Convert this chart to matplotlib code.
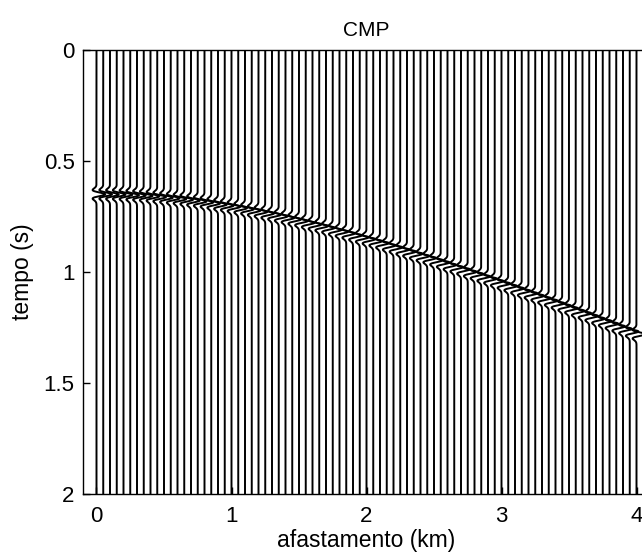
import numpy as np
import matplotlib
matplotlib.use("Agg")
import matplotlib.pyplot as plt

plt.rcParams['font.family'] = ['Liberation Sans', 'DejaVu Sans']

# ---- data ----
title = "CMP"
xlabel = "afastamento (km)"
ylabel = "tempo (s)"
xticks = [0, 1, 2, 3, 4]
yticks = [0, 0.5, 1, 1.5, 2]
ytick_labels = ["0", "0.5", "1", "1.5", "2"]

# trace offsets (km), one trace every 0.05 km
offsets = [round(0.05 * i, 2) for i in range(81)]
# reflection arrival time picked on each trace (s)
arrival_times = [
    0.650, 0.650, 0.651, 0.651, 0.652, 0.654, 0.655, 0.657, 0.659, 0.662,
    0.665, 0.668, 0.671, 0.674, 0.678, 0.682, 0.686, 0.691, 0.696, 0.701,
    0.706, 0.712, 0.717, 0.723, 0.729, 0.736, 0.742, 0.749, 0.756, 0.763,
    0.770, 0.778, 0.786, 0.793, 0.801, 0.810, 0.818, 0.826, 0.835, 0.844,
    0.852, 0.861, 0.870, 0.880, 0.889, 0.899, 0.908, 0.918, 0.928, 0.937,
    0.947, 0.957, 0.968, 0.978, 0.988, 0.999, 1.009, 1.020, 1.030, 1.041,
    1.052, 1.063, 1.074, 1.085, 1.096, 1.107, 1.118, 1.129, 1.141, 1.152,
    1.163, 1.175, 1.186, 1.198, 1.210, 1.221, 1.233, 1.245, 1.256, 1.268,
    1.280,
]

# ---- figure ----
fig = plt.figure(figsize=(6.42, 5.53), dpi=100)
ax = fig.add_axes([83 / 642, 1 - 494 / 553, (650 - 83) / 642, (494 - 50) / 553])

t = np.arange(0, 2.0005, 0.001)
f0 = 20.0
spacing = 0.05
amp = 1.3 * spacing
for x0, ta in zip(offsets, arrival_times):
    a = (np.pi * f0 * (t - ta)) ** 2
    w = (1 - 2 * a) * np.exp(-a)
    xs = x0 + amp * w
    ax.plot(xs, t, color='black', linewidth=1.4)

ax.set_xlim(-0.1, 4.1)
ax.set_ylim(2, 0)
ax.set_xticks(xticks)
ax.set_yticks(yticks)
ax.set_yticklabels(ytick_labels)
ax.tick_params(direction='in', length=5, labelsize=16, width=1.0)
ax.tick_params(axis='x', pad=9)
ax.tick_params(axis='y', pad=6)
for s in ax.spines.values():
    s.set_linewidth(1.0)
ax.set_title(title, fontsize=15, pad=10)
ax.set_xlabel(xlabel, fontsize=16.5, labelpad=1)
ax.set_ylabel(ylabel, fontsize=16.5, labelpad=7)

fig.savefig("out.png", dpi=100)
